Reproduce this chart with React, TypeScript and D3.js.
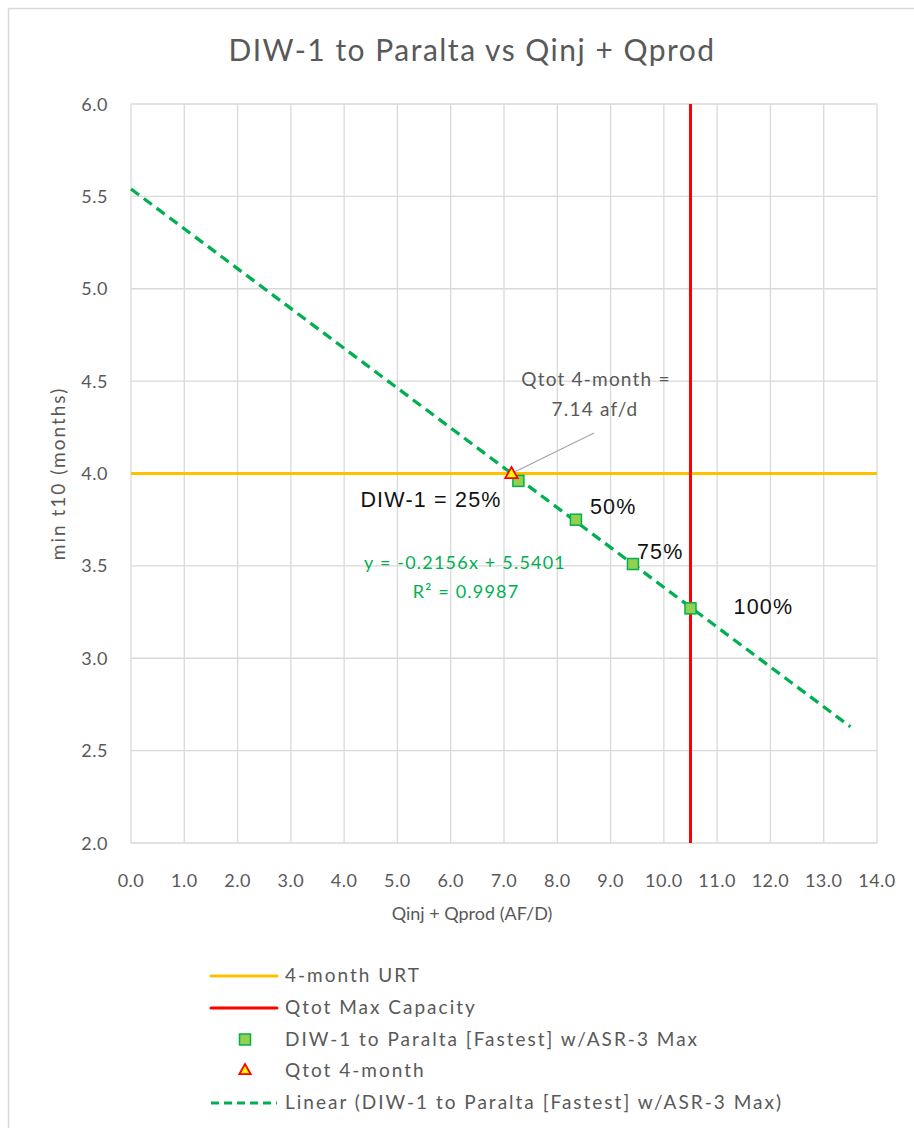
import React from "react";
import * as d3 from "d3";

const pointsX = [7.27, 8.35, 9.42, 10.5];
const pointsY = [3.96, 3.75, 3.51, 3.27];
const pctLabels = ["DIW-1 = 25%", "50%", "75%", "100%"];
const triX = [7.14];
const triY = [4.0];
const urtY = 4.0;
const maxCapX = 10.5;
const slope = -0.2156;
const intercept = 5.5401;
const trendRange = [0, 13.5];
const xTicks = d3.range(0, 14.01, 1);
const yTicks = d3.range(2, 6.01, 0.5);
const legendItems = [
  "4-month URT",
  "Qtot Max Capacity",
  "DIW-1 to Paralta [Fastest] w/ASR-3 Max",
  "Qtot 4-month",
  "Linear (DIW-1 to Paralta [Fastest] w/ASR-3 Max)",
];

const W = 914;
const H = 1128;
const x = d3.scaleLinear().domain([0, 14]).range([131, 877]);
const y = d3.scaleLinear().domain([2, 6]).range([843, 104]);
const FONT = "Lato, 'Open Sans', sans-serif";
const GRAY = "#595959";

export default function App() {
  const trendLine = d3.line<number>()
    .x((d) => x(d))
    .y((d) => y(slope * d + intercept))(trendRange);
  const labelPos = [
    { dx: -158, dy: 26 },
    { dx: 14, dy: -6 },
    { dx: 4, dy: -5 },
    { dx: 43, dy: 6 },
  ];
  const tri = (cx: number, cy: number, s: number) =>
    `M${cx},${cy - s} L${cx + s * 0.95},${cy + s * 0.7} L${cx - s * 0.95},${cy + s * 0.7}Z`;
  const legY = [982, 1014, 1046, 1077, 1109];
  return (
    <svg
      width={W}
      height={H}
      style={{ position: "absolute", left: 0, top: 0, background: "#fff" }}
      fontFamily={FONT}
    >
      <rect x={0} y={0} width={W} height={H} fill="#fff" />
      <line x1={8.5} x2={8.5} y1={8} y2={H} stroke="#d9d9d9" strokeWidth={1.5} />
      <line x1={8} x2={W} y1={8.5} y2={8.5} stroke="#d9d9d9" strokeWidth={1.5} />
      <text x={472} y={61} textAnchor="middle" fontSize={30} letterSpacing={1.5} fill={GRAY}>
        DIW-1 to Paralta vs Qinj + Qprod
      </text>
      {xTicks.map((t) => (
        <line key={"gx" + t} x1={x(t)} x2={x(t)} y1={y(6)} y2={y(2)} stroke="#d9d9d9" strokeWidth={1.3} />
      ))}
      {yTicks.map((t) => (
        <line key={"gy" + t} x1={x(0)} x2={x(14)} y1={y(t)} y2={y(t)} stroke="#d9d9d9" strokeWidth={1.3} />
      ))}
      {xTicks.map((t) => (
        <text key={"tx" + t} x={x(t)} y={887} textAnchor="middle" fontSize={18} letterSpacing={0.5} fill={GRAY}>
          {t.toFixed(1)}
        </text>
      ))}
      {yTicks.map((t) => (
        <text key={"ty" + t} x={108} y={y(t) + 6.5} textAnchor="end" fontSize={18} letterSpacing={0.5} fill={GRAY}>
          {t.toFixed(1)}
        </text>
      ))}
      <text x={472} y={920} textAnchor="middle" fontSize={18} fill={GRAY}>
        Qinj + Qprod (AF/D)
      </text>
      <text
        transform={`translate(65,${y(4)}) rotate(-90)`}
        textAnchor="middle"
        fontSize={19}
        letterSpacing={2}
        fill={GRAY}
      >
        min t10 (months)
      </text>
      <line x1={x(0)} x2={x(14)} y1={y(urtY)} y2={y(urtY)} stroke="#FFC000" strokeWidth={3} />
      <line x1={x(maxCapX)} x2={x(maxCapX)} y1={y(6)} y2={y(2)} stroke="#FF0000" strokeWidth={3} />
      <path d={trendLine ?? ""} fill="none" stroke="#00B050" strokeWidth={3.3} strokeDasharray="10,6" />
      <line x1={594} y1={433} x2={x(triX[0]) + 2} y2={y(triY[0]) - 1} stroke="#a6a6a6" strokeWidth={1.3} />
      <text x={596} y={386} textAnchor="middle" fontSize={19} letterSpacing={1.2} fill={GRAY}>Qtot 4-month =</text>
      <text x={595} y={416} textAnchor="middle" fontSize={19} letterSpacing={1.2} fill={GRAY}>7.14 af/d</text>
      {pointsX.map((px, i) => (
        <rect
          key={"p" + i}
          x={x(px) - 5.5}
          y={y(pointsY[i]) - 5.5}
          width={11}
          height={11}
          fill="#92D050"
          stroke="#00B050"
          strokeWidth={1.5}
        />
      ))}
      {triX.map((tx, i) => (
        <path key={"t" + i} d={tri(x(tx), y(triY[i]), 6.5)} fill="#FFFF00" stroke="#FF0000" strokeWidth={1.8} />
      ))}
      {pointsX.map((px, i) => (
        <text
          key={"l" + i}
          x={x(px) + labelPos[i].dx}
          y={y(pointsY[i]) + labelPos[i].dy}
          fontSize={21.5}
          letterSpacing={1.2}
          fontFamily="'Liberation Sans', Arial, sans-serif"
          fill="#111"
        >
          {pctLabels[i]}
        </text>
      ))}
      <text x={465} y={569} textAnchor="middle" fontSize={18} letterSpacing={1.2} fill="#00B050">
        y = -0.2156x + 5.5401
      </text>
      <text x={466} y={598} textAnchor="middle" fontSize={18} letterSpacing={1.2} fill="#00B050">
        R² = 0.9987
      </text>
      <line x1={211} x2={277} y1={legY[0] - 6} y2={legY[0] - 6} stroke="#FFC000" strokeWidth={3} strokeLinecap="round" />
      <line x1={211} x2={277} y1={legY[1] - 6} y2={legY[1] - 6} stroke="#FF0000" strokeWidth={3} strokeLinecap="round" />
      <rect x={239.5} y={legY[2] - 12} width={11} height={11} fill="#92D050" stroke="#00B050" strokeWidth={1.5} />
      <path d={tri(245, legY[3] - 7, 6)} fill="#FFFF00" stroke="#FF0000" strokeWidth={1.8} />
      <line x1={211} x2={277} y1={legY[4] - 6} y2={legY[4] - 6} stroke="#00B050" strokeWidth={3} strokeDasharray="8,5" />
      {legendItems.map((t, i) => (
        <text key={"lg" + i} x={285} y={legY[i]} fontSize={19} letterSpacing={2} fill={GRAY}>
          {t}
        </text>
      ))}
    </svg>
  );
}
